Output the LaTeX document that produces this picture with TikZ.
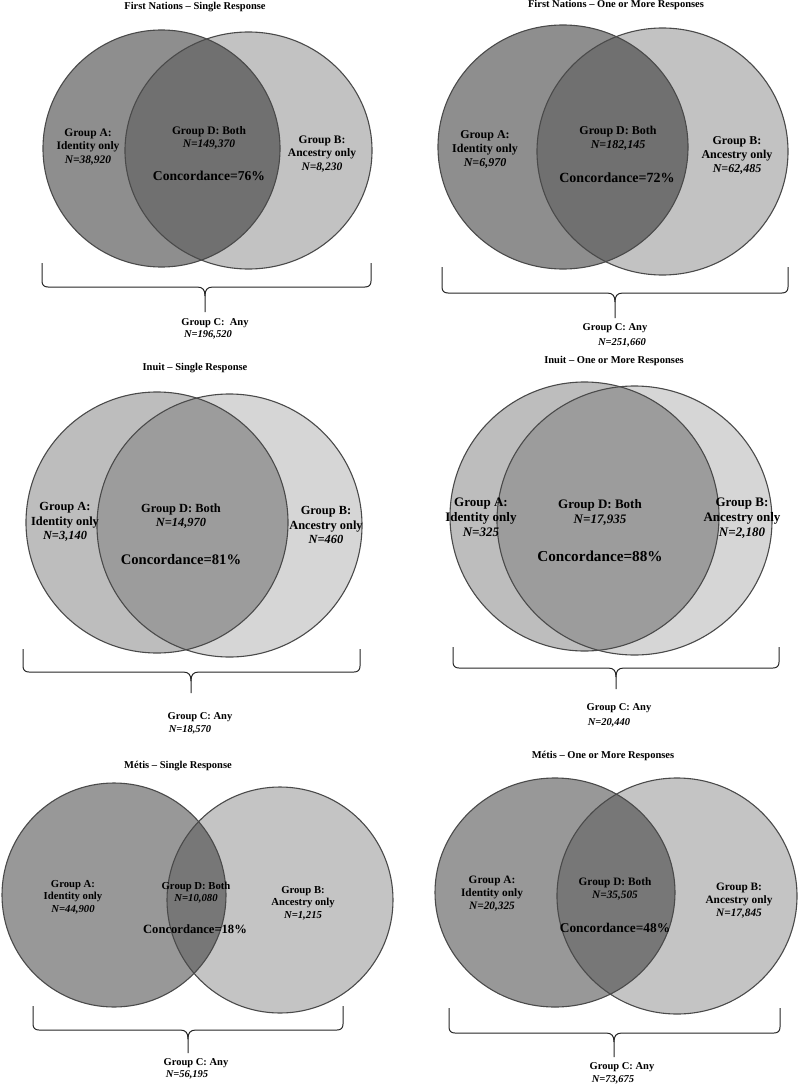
\documentclass[tikz,border=0pt]{standalone}
\usepackage{fontspec}
\setmainfont{Liberation Serif}
\definecolor{fnL}{HTML}{8E8E8E}
\definecolor{fnO}{HTML}{707070}
\definecolor{fnR}{HTML}{C2C2C2}
\definecolor{inL}{HTML}{BDBDBD}
\definecolor{inO}{HTML}{9C9C9C}
\definecolor{inR}{HTML}{D6D6D6}
\definecolor{meL}{HTML}{989898}
\definecolor{meO}{HTML}{777777}
\definecolor{meR}{HTML}{C4C4C4}
\definecolor{ringc}{HTML}{4A4A4A}
\newcommand\vennpair[9]{%
  \fill[#9R] (#5,#6) ellipse[x radius=#7pt,y radius=#8pt];
  \fill[#9L] (#1,#2) ellipse[x radius=#3pt,y radius=#4pt];
  \begin{scope}
    \clip (#1,#2) ellipse[x radius=#3pt,y radius=#4pt];
    \fill[#9O] (#5,#6) ellipse[x radius=#7pt,y radius=#8pt];
  \end{scope}
  \draw[ring] (#1,#2) ellipse[x radius=#3pt,y radius=#4pt];
  \draw[ring] (#5,#6) ellipse[x radius=#7pt,y radius=#8pt];
}
% x1 x2 ytop yh tx ybot
\newcommand\vbrace[6]{%
  \draw[braceline] (#1,#3) -- (#1,#4-6) .. controls (#1,#4-2) and (#1+2,#4) .. (#1+6,#4)
     -- (#5-8,#4) .. controls (#5-2,#4) and (#5,#4+3) .. (#5,#4+9) -- (#5,#6);
  \draw[braceline] (#2,#3) -- (#2,#4-6) .. controls (#2,#4-2) and (#2-2,#4) .. (#2-6,#4)
     -- (#5+8,#4) .. controls (#5+2,#4) and (#5,#4+3) .. (#5,#4+9);
}
\tikzset{
  ring/.style={draw=ringc, line width=1.1pt},
  braceline/.style={draw=black!85, line width=1pt},
  lab/.style 2 args={font=\bfseries\fontsize{#1}{#2}\selectfont, align=center, inner sep=0pt},
  conc/.style={font=\bfseries\fontsize{#1}{#1}\selectfont, inner sep=0pt},
  ttl/.style={font=\bfseries\fontsize{10.5}{12}\selectfont, inner sep=0pt},
  gc/.style={font=\bfseries\fontsize{10.5}{12}\selectfont, inner sep=0pt},
}
\begin{document}
\begin{tikzpicture}[x=1pt,y=-1pt]
\useasboundingbox[fill=white] (0,0) rectangle (800,1086);

% ---------- Panel 1: First Nations - Single
\vennpair{161.5}{148.5}{118.5}{118.5}{248.5}{150.5}{123.5}{118.5}{fn}
\vbrace{42}{371}{263}{287}{205}{312}
\node[ttl] (t1) at (195,7) {First Nations – Single Response};
\node[lab={11.5}{13.5}] (a1) at (88,147) {Group A:\\Identity only\\\textit{N=38,920}};
\node[lab={11.5}{13.5}] (d1) at (209,138) {Group D: Both\\\textit{N=149,370}};
\node[conc=13.6] (k1) at (209,176) {Concordance=76\%};
\node[lab={11.5}{13.5}] (b1) at (322,154) {Group B:\\Ancestry only\\\textit{N=8,230}};
\node[gc] (c1) at (215,323) {Group C:\ \ Any};
\node[gc] (n1) at (208,335) {\textit{N=196,520}};

% ---------- Panel 2: First Nations - One or More
\vennpair{563}{147}{125}{122}{662.5}{151.5}{125.5}{123.5}{fn}
\vbrace{442}{788}{267}{293}{615}{318}
\node[ttl] (t2) at (616,5) {First Nations – One or More Responses};
\node[lab={12}{14}] (a2) at (485,149) {Group A:\\Identity only\\\textit{N=6,970}};
\node[lab={12}{14}] (d2) at (618,138) {Group D: Both\\\textit{N=182,145}};
\node[conc=14] (k2) at (617,178) {Concordance=72\%};
\node[lab={12}{14}] (b2) at (737,155) {Group B:\\Ancestry only\\\textit{N=62,485}};
\node[gc] (c2) at (615,328) {Group C: Any};
\node[gc] (n2) at (622,343) {\textit{N=251,660}};

% ---------- Panel 3: Inuit - Single
\vennpair{157}{522.5}{131}{130.5}{229.5}{525.5}{132.5}{131.5}{in}
\vbrace{23}{360}{649}{672}{191}{693}
\node[ttl] (t3) at (195,368) {Inuit – Single Response};
\node[lab={12.4}{14.5}] (a3) at (65,522) {Group A:\\Identity only\\\textit{N=3,140}};
\node[lab={12.4}{14.5}] (d3) at (181,516) {Group D: Both\\\textit{N=14,970}};
\node[conc=14.6] (k3) at (181,560) {Concordance=81\%};
\node[lab={12.4}{14.5}] (b3) at (326,525) {Group B:\\Ancestry only\\\textit{N=460}};
\node[gc] (c3) at (200,717) {Group C: Any};
\node[gc] (n3) at (190,730) {\textit{N=18,570}};

% ---------- Panel 4: Inuit - One or More
\vennpair{584.5}{516.5}{134.5}{134.5}{634.5}{520.5}{137.5}{134.5}{in}
\vbrace{453}{779}{647}{668}{616}{689}
\node[ttl] (t4) at (614,361) {Inuit – One or More Responses};
\node[lab={13}{15}] (a4) at (481,517) {Group A:\\Identity only\\\textit{N=325}};
\node[lab={13}{15}] (d4) at (600,512) {Group D: Both\\\textit{N=17,935}};
\node[conc=15.2] (k4) at (600,556) {Concordance=88\%};
\node[lab={13}{15}] (b4) at (742,518) {Group B:\\Ancestry only\\\textit{N=2,180}};
\node[gc] (c4) at (619,708) {Group C: Any};
\node[gc] (n4) at (609,723) {\textit{N=20,440}};

% ---------- Panel 5: Metis - Single
\vennpair{114}{895}{112}{112}{280}{900}{113}{113}{me}
\vbrace{33}{343}{1006}{1030}{188}{1053}
\node[ttl] (t5) at (178,766) {Métis – Single Response};
\node[lab={10.7}{12.5}] (a5) at (73,897) {Group A:\\Identity only\\\textit{N=44,900}};
\node[lab={10.7}{12.5}] (d5) at (196,892.5) {Group D: Both\\\textit{N=10,080}};
\node[conc=12.6] (k5) at (195,929) {Concordance=18\%};
\node[lab={10.7}{12.5}] (b5) at (303,903) {Group B:\\Ancestry only\\\textit{N=1,215}};
\node[gc] (c5) at (196,1063) {Group C: Any};
\node[gc] (n5) at (187,1075) {\textit{N=56,195}};

% ---------- Panel 6: Metis - One or More
\vennpair{555}{892.5}{120}{114.5}{677}{896}{120}{118}{me}
\vbrace{449}{780}{1008}{1033}{614}{1057}
\node[ttl] (t6) at (603,756) {Métis – One or More Responses};
\node[lab={11.3}{13}] (a6) at (492,894) {Group A:\\Identity only\\\textit{N=20,325}};
\node[lab={11.3}{13}] (d6) at (615,889) {Group D: Both\\\textit{N=35,505}};
\node[conc=13.4] (k6) at (615,928) {Concordance=48\%};
\node[lab={11.3}{13}] (b6) at (739,901) {Group B:\\Ancestry only\\\textit{N=17,845}};
\node[gc] (c6) at (622,1067) {Group C: Any};
\node[gc] (n6) at (613,1080) {\textit{N=73,675}};
\end{tikzpicture}
\end{document}
